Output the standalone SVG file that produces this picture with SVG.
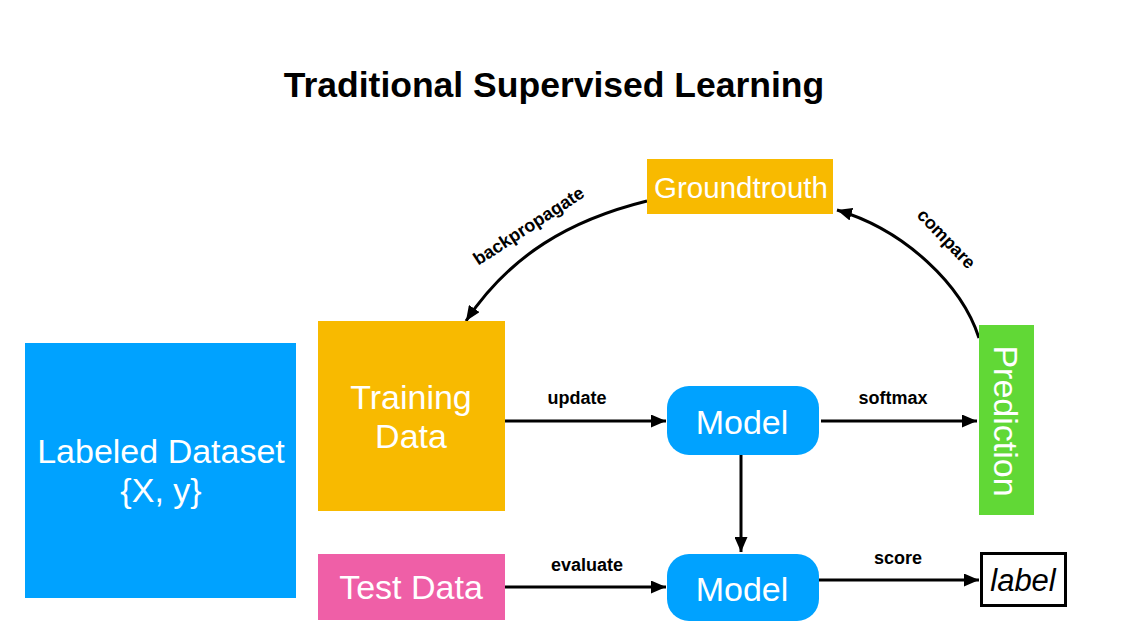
<svg xmlns="http://www.w3.org/2000/svg" width="1122" height="632" viewBox="0 0 1122 632">
<defs>
<marker id="ah" viewBox="0 0 15 13" refX="15" refY="6.5" markerWidth="15" markerHeight="13" markerUnits="userSpaceOnUse" orient="auto">
<path d="M0,0 L15,6.5 L0,13 Z" fill="#000"/>
</marker>
</defs>
<style>
.nt{font-family:"Liberation Sans",Arial,sans-serif;fill:#fff;text-anchor:middle}
.cl{font-family:"Liberation Sans",Arial,sans-serif;font-weight:bold;font-size:18px;fill:#000;text-anchor:middle}
.ln{fill:none;stroke:#000;stroke-width:3;marker-end:url(#ah)}
</style>
<rect width="1122" height="632" fill="#fff"/>
<text x="554" y="97" style="font-family:'Liberation Sans',Arial,sans-serif;font-weight:bold;font-size:35.5px;text-anchor:middle">Traditional Supervised Learning</text>
<g id="connectors">
<line class="ln" x1="505" y1="421" x2="666" y2="421"/>
<line class="ln" x1="821" y1="421" x2="977" y2="421"/>
<line class="ln" x1="741" y1="455" x2="741" y2="552"/>
<line class="ln" x1="505" y1="587" x2="666" y2="587"/>
<line class="ln" x1="817" y1="580" x2="979" y2="580"/>
<path class="ln" d="M979,338 C962,285 905,230 837,210"/>
<path class="ln" d="M647,201 C570,220 510,255 466,321"/>
<text class="cl" x="577" y="404">update</text>
<text class="cl" x="893" y="404">softmax</text>
<text class="cl" x="587" y="571">evaluate</text>
<text class="cl" x="898" y="564">score</text>
<text class="cl" transform="translate(942,243) rotate(46)">compare</text>
<text class="cl" transform="translate(532,231) rotate(-33)">backpropagate</text>
</g>
<g id="labeled-dataset">
<rect x="25" y="343" width="271" height="255" fill="#00A2FF"/>
<text class="nt" x="161" y="463" font-size="34">Labeled Dataset</text>
<text class="nt" x="161" y="502" font-size="34">{X, y}</text>
</g>
<g id="training-data">
<rect x="318" y="321" width="187" height="190" fill="#F8BA00"/>
<text class="nt" x="411" y="409" font-size="34">Training</text>
<text class="nt" x="411" y="448" font-size="34">Data</text>
</g>
<g id="test-data">
<rect x="318" y="554" width="187" height="66" fill="#EF5FA7"/>
<text class="nt" x="411" y="599" font-size="34">Test Data</text>
</g>
<g id="model-train">
<rect x="667" y="386" width="152" height="69" rx="22" fill="#00A2FF"/>
<text class="nt" x="742" y="434" font-size="34">Model</text>
</g>
<g id="model-test">
<rect x="667" y="554" width="152" height="67" rx="22" fill="#00A2FF"/>
<text class="nt" x="742" y="601" font-size="34">Model</text>
</g>
<g id="prediction">
<rect x="979" y="325" width="55" height="190" fill="#61D836"/>
<text class="nt" transform="translate(994,421) rotate(90)" font-size="34">Prediction</text>
</g>
<g id="groundtrouth">
<rect x="647" y="159" width="186" height="55" fill="#F8BA00"/>
<text class="nt" x="741" y="198" font-size="29.5">Groundtrouth</text>
</g>
<g id="label">
<rect x="981.5" y="553.5" width="84" height="52" fill="#fff" stroke="#000" stroke-width="3"/>
<text x="1023" y="591" style="font-family:'Liberation Sans',Arial,sans-serif;font-style:italic;font-size:31px;text-anchor:middle">label</text>
</g>
</svg>
